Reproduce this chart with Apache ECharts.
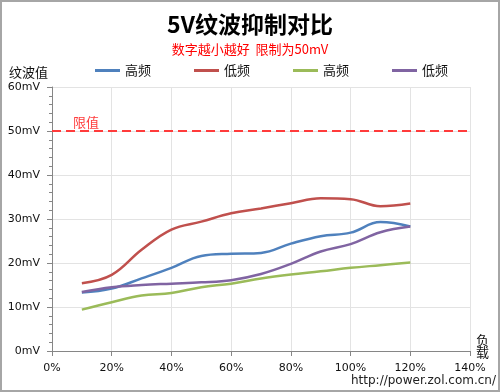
<!DOCTYPE html>
<html>
<head>
<meta charset="utf-8">
<script src="https://cdn.jsdelivr.net/npm/echarts@6/dist/echarts.min.js"></script>
<style>html,body{margin:0;padding:0;background:#fff;}#c{width:500px;height:392px;}</style>
</head>
<body>
<div id="c"></div>
<script>
// Load (%) positions
const loads = [10, 20, 30, 40, 50, 60, 70, 80, 90, 100, 110, 120];
// Series values (mV)
const blueHigh1 = [13.3, 14.2, 16.5, 18.9, 21.6, 22.1, 22.3, 24.4, 26.1, 26.9, 29.3, 28.3];
const redLow1   = [15.4, 17.3, 23.0, 27.6, 29.4, 31.3, 32.4, 33.6, 34.7, 34.5, 32.9, 33.5];
const greenHigh2= [9.4, 11.1, 12.6, 13.2, 14.5, 15.3, 16.5, 17.4, 18.1, 18.9, 19.5, 20.1];
const purpleLow2= [13.4, 14.5, 15.0, 15.3, 15.6, 16.1, 17.5, 19.8, 22.6, 24.3, 27.0, 28.3];
const seriesNames = ['高频', '低频', '高频', '低频'];
const limitValue = 50;
const limitLabel = '限值';
const titleText = '5V纹波抑制对比';
const subText = '数字越小越好  限制为50mV';
const yName = '纹波值';
const xName = '负\n载';
const watermark = 'http://power.zol.com.cn/';

const colors = ['#4F81BD', '#C0504D', '#9BBB59', '#8064A2'];
const valuesList = [blueHigh1, redLow1, greenHigh2, purpleLow2];
const ids = ['s1', 's2', 's3', 's4'];
const nameById = {s1: seriesNames[0], s2: seriesNames[1], s3: seriesNames[2], s4: seriesNames[3]};

const CJK = '"Noto Sans CJK SC", sans-serif';
const LAT = '"DejaVu Sans", sans-serif';

const series = valuesList.map((vals, i) => {
  const s = {
    name: ids[i],
    type: 'line',
    smooth: 0.4,
    symbol: 'none',
    data: vals.map((v, k) => [loads[k], v]),
    lineStyle: {width: 2.5, color: colors[i]},
    itemStyle: {color: colors[i]},
    z: 3
  };
  if (i === 0) {
    s.markLine = {
      silent: true,
      symbol: 'none',
      data: [{yAxis: limitValue}],
      lineStyle: {color: '#FF3B3B', type: [9, 5], width: 1.8},
      label: {
        show: true, formatter: limitLabel, position: 'insideStartTop',
        distance: [21, 2],
        color: '#FF3B3B', fontSize: 13, fontFamily: CJK
      }
    };
  }
  return s;
});

const chart = echarts.init(document.getElementById('c'));
chart.setOption({
  animation: false,
  backgroundColor: '#fff',
  color: colors,
  title: {
    text: titleText,
    subtext: subText,
    left: 'center',
    top: 8,
    itemGap: 7,
    textStyle: {fontSize: 23, fontWeight: 'bold', color: '#000', fontFamily: CJK},
    subtextStyle: {fontSize: 13, color: '#FF0000', fontFamily: CJK}
  },
  legend: {
    data: ids,
    left: 90,
    top: 59,
    icon: 'rect',
    itemWidth: 25,
    itemHeight: 3,
    itemGap: 43,
    formatter: id => nameById[id],
    textStyle: {fontSize: 13, color: '#111', fontFamily: CJK}
  },
  grid: {left: 52, right: 30, top: 87, bottom: 41, containLabel: false},
  xAxis: {
    type: 'value', min: 0, max: 140, interval: 20,
    name: xName, nameLocation: 'end', nameGap: 6,
    nameTextStyle: {fontSize: 13, color: '#111', fontFamily: CJK, lineHeight: 12, align: 'left', verticalAlign: 'bottom', padding: [0, 0, -7, 0]},
    axisLine: {lineStyle: {color: '#868686', width: 1}},
    axisTick: {show: true, length: 5, lineStyle: {color: '#868686'}},
    axisLabel: {formatter: '{value}%', fontSize: 11, color: '#111', fontFamily: LAT, margin: 12},
    splitLine: {show: true, lineStyle: {color: '#E3E3E3', width: 1}}
  },
  yAxis: {
    type: 'value', min: 0, max: 60, interval: 10,
    name: yName, nameLocation: 'end', nameGap: 15,
    nameTextStyle: {fontSize: 13, color: '#111', fontFamily: CJK, align: 'right', verticalAlign: 'middle', padding: [0, 4, 0, 0]},
    axisLine: {show: true, lineStyle: {color: '#868686', width: 1}},
    axisTick: {show: true, length: 5, lineStyle: {color: '#868686'}},
    minorTick: {show: true, splitNumber: 5, length: 3, lineStyle: {color: '#868686'}},
    axisLabel: {formatter: '{value}mV', fontSize: 11, color: '#111', fontFamily: LAT, margin: 12},
    splitLine: {show: true, lineStyle: {color: '#E3E3E3', width: 1}}
  },
  graphic: [
    {type: 'rect', silent: true, shape: {x: 1, y: 1, width: 498, height: 390}, style: {fill: 'none', stroke: '#A6A6A6', lineWidth: 2}, z: 0},
    {type: 'text', silent: true, right: 4, top: 375, style: {text: watermark, fontSize: 12, fill: '#222', fontFamily: LAT}}
  ],
  series: series
});
</script>
</body>
</html>
